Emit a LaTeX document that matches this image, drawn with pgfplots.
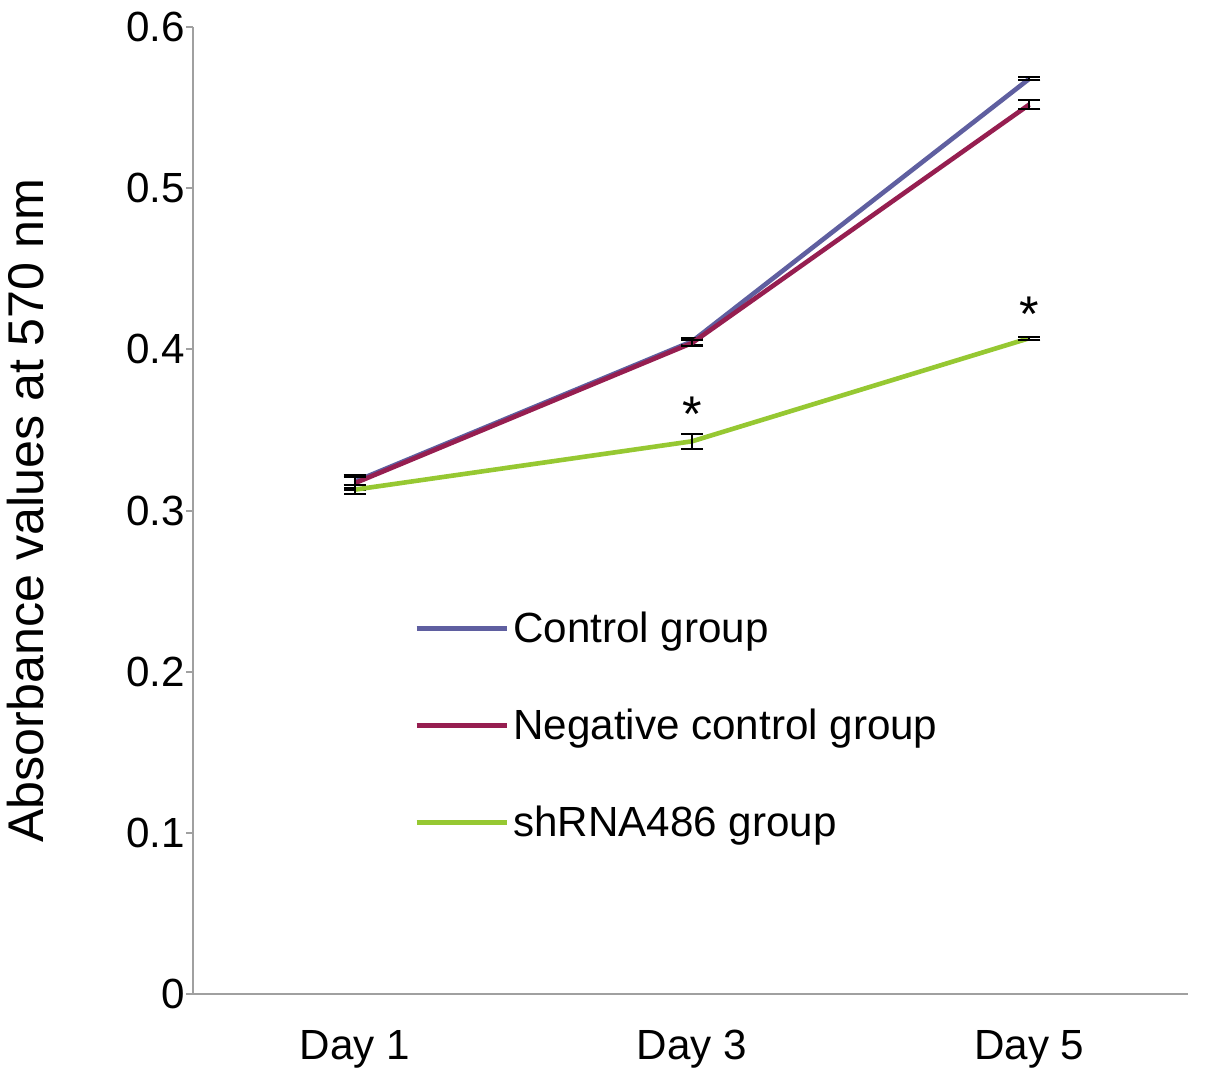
\documentclass[border=0pt]{standalone}
\usepackage{fontspec}
\setmainfont{Liberation Sans}
\usepackage{pgfplots}
\pgfplotsset{compat=1.18}

\definecolor{ctrlblue}{RGB}{95,95,160}
\definecolor{negred}{RGB}{150,30,80}
\definecolor{shgreen}{RGB}{150,200,50}
\definecolor{axisgray}{RGB}{160,160,160}

\begin{document}
\begin{tikzpicture}
\begin{axis}[
    scale only axis,
    width=495.5pt,
    height=481.5pt,
    xmin=-0.48, xmax=2.47,
    ymin=0, ymax=0.6,
    xtick={0,1,2},
    xticklabels={Day 1,Day 3,Day 5},
    ytick={0,0.1,0.2,0.3,0.4,0.5,0.6},
    yticklabel style={/pgf/number format/fixed,/pgf/number format/precision=1},
    /pgf/number format/assume math mode=true,
    axis x line*=bottom,
    axis y line*=left,
    axis line style={axisgray, line width=1pt},
    major tick length=3.5pt,
    tick style={axisgray, line width=1pt},
    xtick style={draw=none},
    ytick pos=left,
    tick align=outside,
    ticklabel style={font=\fontsize{21}{25}\selectfont},
    xticklabel style={yshift=-11pt},
    yticklabel style={xshift=3pt},
    ylabel={Absorbance values at 570 nm},
    ylabel style={font=\fontsize{25}{29}\selectfont,
        at={(axis description cs:0,0.5)}, anchor=center, yshift=83.5pt},
    legend style={at={(0.216,0.404)}, anchor=north west, draw=none, fill=none,
        font=\fontsize{21}{25}\selectfont, row sep=27.5pt,
        /tikz/every even column/.append style={column sep=0pt}},
    legend cell align=left,
    legend image code/.code={\draw[#1] (0pt,0pt) -- (45pt,0pt);},
    clip=false,
]
\addplot[ctrlblue, line width=2.3pt,
    error bars/.cd, y dir=both, y explicit,
    error bar style={black, line width=1pt},
    error mark options={rotate=90, mark size=5.5pt, black, line width=1pt}]
coordinates {
    (0,0.318) +- (0,0.004)
    (1,0.405) +- (0,0.002)
    (2,0.568) +- (0,0.001)
};
\addplot[negred, line width=2.3pt,
    error bars/.cd, y dir=both, y explicit,
    error bar style={black, line width=1pt},
    error mark options={rotate=90, mark size=5.5pt, black, line width=1pt}]
coordinates {
    (0,0.317) +- (0,0.004)
    (1,0.404) +- (0,0.002)
    (2,0.552) +- (0,0.003)
};
\addplot[shgreen, line width=2.3pt,
    error bars/.cd, y dir=both, y explicit,
    error bar style={black, line width=1pt},
    error mark options={rotate=90, mark size=5.5pt, black, line width=1pt}]
coordinates {
    (0,0.313) +- (0,0.003)
    (1,0.343) +- (0,0.0045)
    (2,0.407) +- (0,0.001)
};
\legend{Control group, Negative control group, shRNA486 group}
\node[font=\fontsize{25}{29}\selectfont] at (axis cs:1,0.36) {*};
\node[font=\fontsize{25}{29}\selectfont] at (axis cs:2,0.422) {*};
\coordinate (br) at (rel axis cs:1,0);
\coordinate (tl) at (rel axis cs:0,1);
\end{axis}
\path (br) ++(8.5pt,-42.5pt) coordinate (pad);
\path (tl) ++(0,13.5pt) coordinate (padtop);
\end{tikzpicture}
\end{document}
